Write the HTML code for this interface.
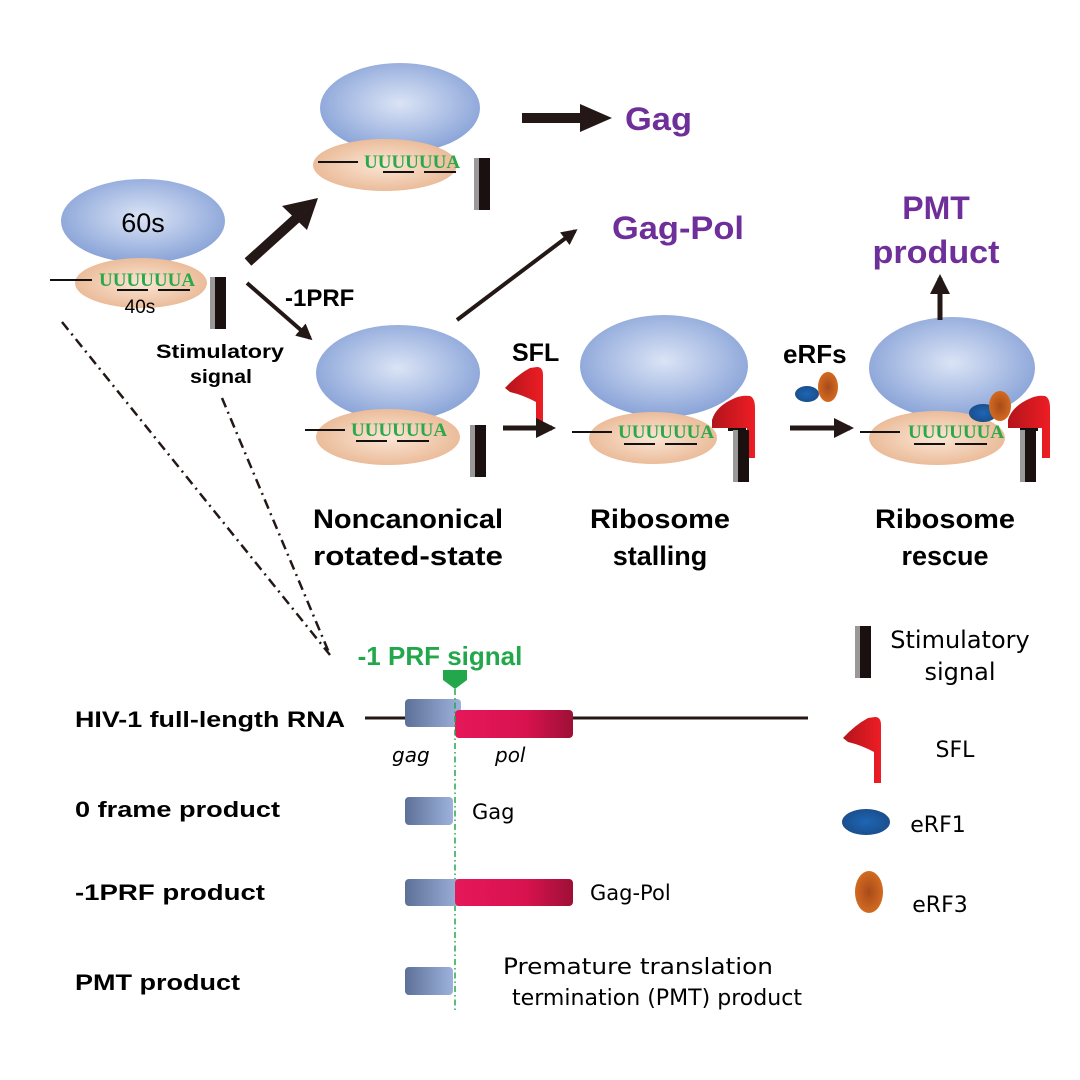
<!DOCTYPE html>
<html><head><meta charset="utf-8"><style>
body{margin:0;background:#fff}
svg{display:block}
text{font-family:"Liberation Sans",sans-serif}
.b{font-weight:bold}
.u{font-family:"Liberation Serif",serif;font-weight:bold;fill:#2aa84a;font-size:19px}
.c{font-family:"DejaVu Sans","Liberation Sans",sans-serif}
</style></head><body>
<svg width="1080" height="1080" viewBox="0 0 1080 1080">
<defs>
<radialGradient id="g60" cx="50%" cy="45%" r="55%"><stop offset="0" stop-color="#dbe4f6"/><stop offset="1" stop-color="#8aa4d8"/></radialGradient>
<radialGradient id="g40" cx="50%" cy="50%" r="55%"><stop offset="0" stop-color="#fbe6d6"/><stop offset="1" stop-color="#e9b894"/></radialGradient>
<linearGradient id="gb" x1="0" x2="1"><stop offset="0" stop-color="#5d7098"/><stop offset="1" stop-color="#9db2db"/></linearGradient>
<linearGradient id="gp" x1="0" x2="1"><stop offset="0" stop-color="#e5185a"/><stop offset="0.6" stop-color="#d8124f"/><stop offset="1" stop-color="#9e1035"/></linearGradient>
<linearGradient id="gf" x1="0" x2="1"><stop offset="0" stop-color="#b3141c"/><stop offset="1" stop-color="#ee1d24"/></linearGradient>
<radialGradient id="ge1"><stop offset="0" stop-color="#1e66b4"/><stop offset="1" stop-color="#1a4f8e"/></radialGradient>
<radialGradient id="ge3"><stop offset="0" stop-color="#a84a1a"/><stop offset="1" stop-color="#d26a20"/></radialGradient>
<g id="bar"><rect x="0" y="0" width="16" height="52" fill="#1b1010"/><rect x="0" y="0" width="5" height="52" fill="#999"/></g>
<g id="flag"><path d="M32,0 Q38,0 38,8 L38,66 L31,66 L31,35 Q18,28 5,25 L0,21 Q12,8 25,1 Z" fill="url(#gf)"/></g>
<marker id="ah" viewBox="0 0 10 10" refX="8" refY="5" markerWidth="4" markerHeight="4" orient="auto"><path d="M0,0 L10,5 L0,10 Z" fill="#231815"/></marker>
</defs>

<!-- Ribosome 1 (left) -->
<ellipse cx="143" cy="221" rx="82" ry="42" fill="url(#g60)"/>
<ellipse cx="141" cy="283" rx="66" ry="25" fill="url(#g40)"/>
<line x1="50" y1="280" x2="92" y2="280" stroke="#111" stroke-width="2"/>
<text x="99" y="286" class="u">UUUUUUA</text>
<line x1="117" y1="290" x2="148" y2="290" stroke="#111" stroke-width="2"/><line x1="158" y1="290" x2="190" y2="290" stroke="#111" stroke-width="2"/>
<text x="143" y="232" font-size="27" text-anchor="middle">60s</text>
<text x="140" y="313" font-size="19" text-anchor="middle">40s</text>
<use href="#bar" x="210" y="277"/>

<!-- Ribosome 2 (top) -->
<ellipse cx="400" cy="108" rx="80" ry="45" fill="url(#g60)"/>
<ellipse cx="385" cy="165" rx="72" ry="26" fill="url(#g40)"/>
<line x1="318" y1="162" x2="358" y2="162" stroke="#111" stroke-width="2"/>
<text x="364" y="168" class="u">UUUUUUA</text>
<line x1="383" y1="172" x2="414" y2="172" stroke="#111" stroke-width="2"/><line x1="424" y1="172" x2="456" y2="172" stroke="#111" stroke-width="2"/>
<use href="#bar" x="474" y="158"/>

<!-- Ribosome 3 (noncanonical) -->
<ellipse cx="398" cy="373" rx="82" ry="48" fill="url(#g60)"/>
<ellipse cx="388" cy="437" rx="72" ry="28" fill="url(#g40)"/>
<line x1="305" y1="430" x2="345" y2="430" stroke="#111" stroke-width="2"/>
<text x="351" y="436" class="u">UUUUUUA</text>
<line x1="356" y1="441" x2="387" y2="441" stroke="#111" stroke-width="2"/><line x1="397" y1="441" x2="429" y2="441" stroke="#111" stroke-width="2"/>
<use href="#bar" x="470" y="425"/>

<!-- Ribosome 4 (stalling) -->
<ellipse cx="664" cy="366" rx="84" ry="51" fill="url(#g60)"/>
<ellipse cx="653" cy="438" rx="64" ry="26" fill="url(#g40)"/>
<path d="M712,420 Q716,406 735,398 Q742,395 750,396 Q755,398 755,408 L755,458 L747,458 L747,428 L712,428 Z" fill="url(#gf)"/>
<line x1="572" y1="432" x2="612" y2="432" stroke="#111" stroke-width="2"/>
<text x="618" y="438" class="u">UUUUUUA</text>
<line x1="624" y1="444" x2="655" y2="444" stroke="#111" stroke-width="2"/><line x1="665" y1="444" x2="697" y2="444" stroke="#111" stroke-width="2"/>
<rect x="728" y="428" width="18" height="3" fill="#111"/>
<use href="#bar" x="733" y="430"/>

<!-- Ribosome 5 (rescue) -->
<ellipse cx="952" cy="368" rx="83" ry="51" fill="url(#g60)"/>
<ellipse cx="937" cy="438" rx="68" ry="27" fill="url(#g40)"/>
<path d="M1008,420 Q1012,406 1031,398 Q1038,395 1045,396 Q1050,398 1050,408 L1050,458 L1042,458 L1042,428 L1008,428 Z" fill="url(#gf)"/>
<ellipse cx="983" cy="413" rx="14" ry="9" fill="url(#ge1)"/>
<ellipse cx="1000" cy="406" rx="11" ry="15" fill="url(#ge3)"/>
<line x1="860" y1="432" x2="900" y2="432" stroke="#111" stroke-width="2"/>
<text x="908" y="438" class="u">UUUUUUA</text>
<line x1="914" y1="444" x2="945" y2="444" stroke="#111" stroke-width="2"/><line x1="955" y1="444" x2="987" y2="444" stroke="#111" stroke-width="2"/>
<rect x="1020" y="428" width="18" height="3" fill="#111"/>
<use href="#bar" x="1020" y="430"/>

<!-- free eRFs and SFL -->
<ellipse cx="807" cy="394" rx="12" ry="8" fill="url(#ge1)"/>
<ellipse cx="828" cy="387" rx="10" ry="15" fill="url(#ge3)"/>
<use href="#flag" x="505" y="367"/>

<!-- arrows -->
<line x1="248" y1="262" x2="300" y2="215" stroke="#231815" stroke-width="10"/>
<polygon points="318,198 282,206 307,230" fill="#231815"/>
<line x1="247" y1="283" x2="310" y2="338" stroke="#231815" stroke-width="4" marker-end="url(#ah)"/>
<line x1="522" y1="118" x2="585" y2="118" stroke="#231815" stroke-width="10"/>
<polygon points="612,118 580,104 580,132" fill="#231815"/>
<line x1="457" y1="320" x2="575" y2="231" stroke="#231815" stroke-width="4" marker-end="url(#ah)"/>
<line x1="503" y1="428" x2="552" y2="428" stroke="#231815" stroke-width="5" marker-end="url(#ah)"/>
<line x1="790" y1="428" x2="850" y2="428" stroke="#231815" stroke-width="5" marker-end="url(#ah)"/>
<line x1="940" y1="320" x2="940" y2="278" stroke="#231815" stroke-width="5" marker-end="url(#ah)"/>

<!-- top labels -->
<text x="625" y="130" font-size="32" class="b" fill="#6f2f9a" textLength="67" lengthAdjust="spacingAndGlyphs">Gag</text>
<text x="612" y="239" font-size="32" class="b" fill="#6f2f9a" textLength="132" lengthAdjust="spacingAndGlyphs">Gag-Pol</text>
<text x="936" y="219" font-size="32" class="b" fill="#6f2f9a" text-anchor="middle">PMT</text>
<text x="936" y="263" font-size="32" class="b" fill="#6f2f9a" text-anchor="middle" textLength="127" lengthAdjust="spacingAndGlyphs">product</text>
<text x="285" y="306" font-size="24" class="b">-1PRF</text>
<text x="512" y="361" font-size="25" class="b">SFL</text>
<text x="783" y="363" font-size="26" class="b">eRFs</text>
<text x="220" y="358" font-size="19" class="b" text-anchor="middle" textLength="128" lengthAdjust="spacingAndGlyphs">Stimulatory</text>
<text x="221" y="383" font-size="19" class="b" text-anchor="middle" textLength="62" lengthAdjust="spacingAndGlyphs">signal</text>
<text x="408" y="528" font-size="27" class="b" text-anchor="middle" textLength="190" lengthAdjust="spacingAndGlyphs">Noncanonical</text>
<text x="408" y="565" font-size="27" class="b" text-anchor="middle" textLength="190" lengthAdjust="spacingAndGlyphs">rotated-state</text>
<text x="660" y="528" font-size="27" class="b" text-anchor="middle" textLength="140" lengthAdjust="spacingAndGlyphs">Ribosome</text>
<text x="660" y="565" font-size="27" class="b" text-anchor="middle">stalling</text>
<text x="945" y="528" font-size="27" class="b" text-anchor="middle" textLength="140" lengthAdjust="spacingAndGlyphs">Ribosome</text>
<text x="945" y="565" font-size="27" class="b" text-anchor="middle">rescue</text>

<!-- dash-dot zoom lines -->
<line x1="62" y1="322" x2="330" y2="655" stroke="#231815" stroke-width="2.5" stroke-dasharray="10,5,2,5"/>
<line x1="222" y1="398" x2="330" y2="655" stroke="#231815" stroke-width="2.5" stroke-dasharray="10,5,2,5"/>

<!-- bottom map -->
<text x="440" y="665" font-size="26" class="b" fill="#22a84a" text-anchor="middle">-1 PRF signal</text>
<path d="M443,670 L467,670 L467,680 L455,689 L443,680 Z" fill="#22a84a"/>
<line x1="365" y1="718" x2="808" y2="718" stroke="#231815" stroke-width="3"/>
<rect x="405" y="699" width="56" height="28" rx="4" fill="url(#gb)"/>
<rect x="455" y="710" width="118" height="28" rx="4" fill="url(#gp)"/>
<line x1="455" y1="689" x2="455" y2="1012" stroke="#22a84a" stroke-width="1.5" stroke-dasharray="6,3,1.5,3"/>
<text x="392" y="762" font-size="20" font-style="italic" class="c">gag</text>
<text x="495" y="762" font-size="20" font-style="italic" class="c">pol</text>

<text x="75" y="727" font-size="22" class="b" textLength="270" lengthAdjust="spacingAndGlyphs">HIV-1 full-length RNA</text>
<text x="75" y="817" font-size="22" class="b" textLength="205" lengthAdjust="spacingAndGlyphs">0 frame product</text>
<text x="75" y="900" font-size="22" class="b" textLength="190" lengthAdjust="spacingAndGlyphs">-1PRF product</text>
<text x="75" y="990" font-size="22" class="b" textLength="165" lengthAdjust="spacingAndGlyphs">PMT product</text>

<rect x="405" y="797" width="48" height="28" rx="4" fill="url(#gb)"/>
<text x="472" y="819" font-size="21" class="c">Gag</text>
<rect x="405" y="879" width="56" height="27" rx="4" fill="url(#gb)"/>
<rect x="455" y="879" width="118" height="27" rx="4" fill="url(#gp)"/>
<text x="590" y="900" font-size="21" class="c">Gag-Pol</text>
<rect x="405" y="967" width="48" height="28" rx="4" fill="url(#gb)"/>
<text x="638" y="974" font-size="22" text-anchor="middle" class="c" textLength="270" lengthAdjust="spacingAndGlyphs">Premature translation</text>
<text x="657" y="1005" font-size="22" text-anchor="middle" class="c" textLength="290" lengthAdjust="spacingAndGlyphs">termination (PMT)  product</text>

<!-- legend -->
<use href="#bar" x="855" y="626"/>
<text x="960" y="648" font-size="24" text-anchor="middle" class="c">Stimulatory</text>
<text x="960" y="680" font-size="24" text-anchor="middle" class="c">signal</text>
<use href="#flag" x="843" y="717"/>
<text x="955" y="757" font-size="22" text-anchor="middle" class="c">SFL</text>
<ellipse cx="866" cy="822" rx="24" ry="13" fill="url(#ge1)"/>
<text x="938" y="832" font-size="22" text-anchor="middle" class="c">eRF1</text>
<ellipse cx="869" cy="892" rx="14" ry="21" fill="url(#ge3)"/>
<text x="940" y="912" font-size="22" text-anchor="middle" class="c">eRF3</text>
</svg>
</body></html>
